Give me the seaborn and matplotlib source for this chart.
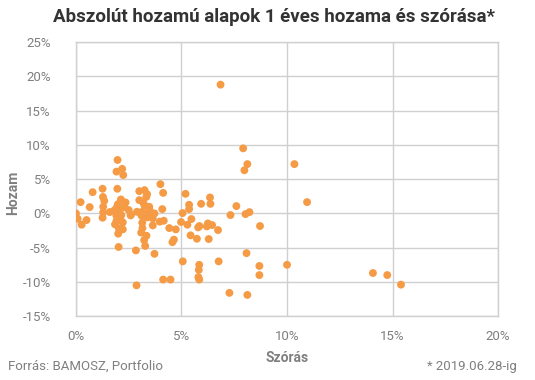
import matplotlib
matplotlib.use("Agg")
import matplotlib.pyplot as plt
import seaborn as sns
import pandas as pd
from matplotlib.ticker import FuncFormatter

# Szórás (%) - standard deviation
szoras = [
    0.0, 0.08, 0.27, 0.22, 0.5, 0.65, 0.79, 1.26, 1.28, 1.34,
    1.29, 1.29, 1.26, 1.97, 1.92, 2.19, 2.24, 1.96, 2.13, 2.35,
    1.99, 1.83, 2.07, 2.5, 1.91, 2.15, 1.92, 2.22, 2.59, 2.03,
    2.22, 2.0, 2.02, 2.84, 2.87, 2.89, 3.0, 3.25, 3.37, 3.33,
    3.0, 3.25, 3.47, 3.14, 3.45, 3.72, 3.17, 3.38, 3.64, 3.14,
    3.64, 3.15, 3.09, 3.34, 3.23, 3.28, 3.72, 4.0, 4.13, 4.09,
    3.97, 4.16, 4.42, 4.73, 4.64, 4.57, 4.13, 4.48, 5.05, 4.98,
    5.19, 5.28, 5.36, 5.36, 5.47, 5.43, 5.06, 5.73, 5.79, 5.93,
    5.85, 5.84, 5.82, 5.8, 5.84, 6.25, 6.29, 6.35, 6.37, 6.45,
    6.73, 6.76, 6.85, 7.92, 8.12, 7.98, 10.35, 10.95, 7.6, 7.32,
    8.03, 8.22, 8.72, 6.2, 8.08, 8.69, 8.69, 10.0, 7.27, 8.12,
    14.07, 14.75, 15.4,
    1.85, 2.1, 2.3, 1.95, 2.05, 3.1, 3.2, 3.5, 2.6, 1.6,
]
# Hozam (%) - 1 year return
hozam = [
    0.0, -0.78, -1.65, 1.65, -0.97, 0.92, 3.1, 3.6, 2.4, 1.84,
    0.97, 0.15, -0.63, 7.8, 6.1, 6.5, 5.6, 3.6, 2.04, 1.6,
    1.36, 0.49, 0.49, 0.49, -0.29, -0.24, -1.07, -1.31, -0.29, -2.18,
    -2.33, -2.96, -4.9, -5.4, -10.5, 0.24, 3.25, 3.4, 2.8, 2.4,
    1.94, 1.12, 0.97, 0.24, 0.1, 0.0, -0.49, -0.58, -0.73, -1.36,
    -1.75, -2.14, -2.8, -3.25, -3.9, -4.75, -5.9, 4.27, 3.0, 0.63,
    -1.2, -1.07, -2.14, -2.33, -3.83, -4.2, -9.66, -9.66, 0.05, -1.26,
    2.86, -1.65, 1.26, 0.63, -0.82, -3.2, -7.0, -3.7, -2.04, 1.4,
    -1.84, -7.5, -8.25, -9.3, -9.66, -1.46, -3.74, 2.33, 1.4, -1.7,
    -2.43, -7.0, 18.8, 9.5, 7.2, 6.3, 7.2, 1.65, 1.07, -0.24,
    -0.1, 0.19, -1.84, -1.9, -5.8, -7.67, -9.0, -7.5, -11.6, -11.9,
    -8.7, -9.0, -10.4,
    -1.6, -0.9, 0.9, 1.0, -0.6, -0.3, 1.5, 0.4, -0.2, 0.2,
]

df = pd.DataFrame({"szoras": szoras, "hozam": hozam})

sns.set_style("white")
plt.rcParams["font.family"] = ["Roboto", "DejaVu Sans"]

grid_color = "#d0d0d0"
text_gray = "#7f7f7f"

fig = plt.figure(figsize=(5.35, 3.8), dpi=100)
ax = fig.add_axes([0.142, 0.168, 0.789, 0.721])

sns.scatterplot(
    data=df, x="szoras", y="hozam", ax=ax,
    color="#f59b45", s=32, edgecolor="none", zorder=3,
)

ax.set_xlim(0, 20)
ax.set_ylim(-15, 25)
ax.set_xticks(range(0, 21, 5))
ax.set_yticks(range(-15, 26, 5))
ax.xaxis.set_major_formatter(FuncFormatter(lambda v, p: f"{int(v)}%"))
ax.yaxis.set_major_formatter(FuncFormatter(lambda v, p: f"{int(v)}%"))
ax.grid(True, color=grid_color, linewidth=1)
ax.set_axisbelow(True)
for sp in ax.spines.values():
    sp.set_color(grid_color)
    sp.set_linewidth(1)
ax.tick_params(axis="both", length=0, labelsize=9.5, labelcolor=text_gray, pad=10)
ax.tick_params(axis="y", pad=18)

ax.set_xlabel("Szórás", fontsize=10, fontweight="bold", color=text_gray, labelpad=6)
ax.set_ylabel("Hozam", fontsize=10, fontweight="bold", color=text_gray)
ax.yaxis.set_label_coords(-0.133, 0.45)

fig.text(0.513, 0.955, "Abszolút hozamú alapok 1 éves hozama és szórása*",
         ha="center", va="center", fontsize=13.5, fontweight="bold", color="#333333")
fig.text(0.015, 0.035, "Forrás: BAMOSZ, Portfolio", ha="left", va="center",
         fontsize=9.5, color=text_gray)
fig.text(0.965, 0.035, "* 2019.06.28-ig", ha="right", va="center",
         fontsize=9.5, color=text_gray)

fig.savefig("out.png", dpi=100)
